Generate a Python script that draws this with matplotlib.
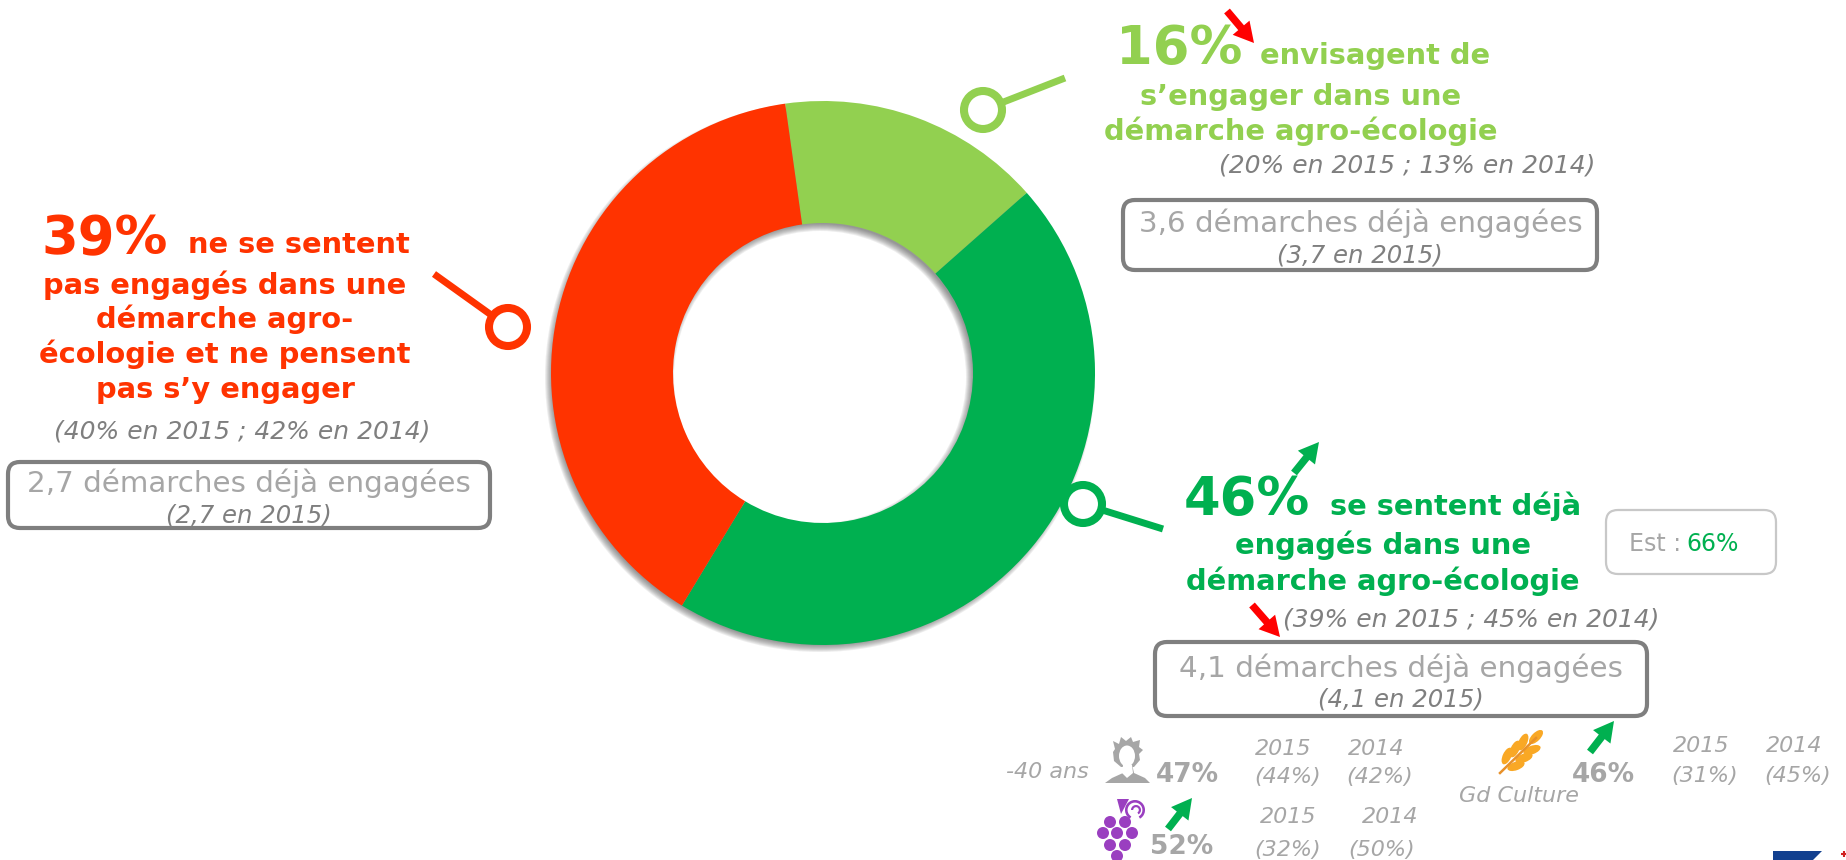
import matplotlib
matplotlib.use("Agg")
import matplotlib.pyplot as plt
from matplotlib.patches import Circle, Ellipse, FancyArrow, FancyBboxPatch, Polygon, Wedge

# shares read from the ring itself (labels say 46/16/39)
slices = [15.7, 45.2, 39.1]
slice_colors = ["#92D050", "#00B050", "#FF3300"]

red = "#FF3300"
green = "#00B050"
light = "#92D050"
grey = "#7F7F7F"
pale = "#A6A6A6"

W, H = 1846, 860
cx, cy, r = 823, 373, 272
hole = 150

big = 38
head = 20.8
note = 18
sub = 17.6
boxed = 21.2
small = 16

fig = plt.figure(figsize=(W / 100, H / 100), dpi=100)
plt.rcParams["font.family"] = ["DejaVu Sans"]

pad = 1.1
pie_ax = fig.add_axes([(cx - r * pad) / W, 1 - (cy + r * pad) / H, 2 * r * pad / W, 2 * r * pad / H], zorder=2)
pie_ax.pie(slices, colors=slice_colors, startangle=98, counterclock=False, radius=1,
           wedgeprops=dict(width=1 - hole / r, linewidth=0))
pie_ax.set_xlim(-pad, pad)
pie_ax.set_ylim(-pad, pad)
pie_ax.set_axis_off()
pie_ax.patch.set_alpha(0)

# layer under the ring, only for the soft shadow
back = fig.add_axes([0, 0, 1, 1], zorder=1)
back.set_xlim(0, W)
back.set_ylim(H, 0)
back.set_axis_off()
for k in range(8):
    outer = r + 3 - k
    inner = hole - 4 + k
    back.add_patch(Wedge((cx - 3, cy + 4), outer, 0, 360, width=outer - inner,
                         color="#404040", alpha=0.09, lw=0))

ax = fig.add_axes([0, 0, 1, 1], zorder=3)
ax.set_xlim(0, W)
ax.set_ylim(H, 0)
ax.set_axis_off()
ax.patch.set_alpha(0)


def txt(x, y, s, size, color, ha="center", bold=False, italic=False):
    ax.text(x, y, s, fontsize=size, color=color, ha=ha, va="baseline",
            fontweight="bold" if bold else "normal",
            fontstyle="italic" if italic else "normal")


def pin(x, y, x2, y2, color):
    ax.plot([x, x2], [y, y2], color=color, lw=5, solid_capstyle="butt", zorder=1)
    ax.add_patch(Circle((x, y), 19, fc="white", ec=color, lw=5.8, zorder=2))


def arrow(x, y, x2, y2, color):
    ax.add_patch(FancyArrow(x, y, x2 - x, y2 - y, width=7.5, head_width=22, head_length=20,
                            length_includes_head=True, color=color, lw=0))


def box(x0, y0, x1, y1, color=grey, lw=3, rad=12):
    ax.add_patch(FancyBboxPatch((x0, y0), x1 - x0, y1 - y0, boxstyle=f"round,pad=0,rounding_size={rad}",
                                fc="white", ec=color, lw=lw))


# left block
txt(41, 254, "39%", big, red, ha="left", bold=True)
txt(188, 253, "ne se sentent", head, red, ha="left", bold=True)
txt(225, 294, "pas engagés dans une", head, red, bold=True)
txt(225, 328, "démarche agro-", head, red, bold=True)
txt(225, 363, "écologie et ne pensent", head, red, bold=True)
txt(225, 398, "pas s’y engager", head, red, bold=True)
txt(242, 438, "(40% en 2015 ; 42% en 2014)", note, grey, italic=True)
box(8, 462, 490, 528)
txt(249, 492, "2,7 démarches déjà engagées", boxed, pale)
txt(249, 523, "(2,7 en 2015)", sub, grey, italic=True)
pin(508, 327, 434, 274, red)

# top right block
txt(1116, 64, "16%", big, light, ha="left", bold=True)
txt(1260, 64, "envisagent de", head, light, ha="left", bold=True)
txt(1301, 105, "s’engager dans une", head, light, bold=True)
txt(1301, 140, "démarche agro-écologie", head, light, bold=True)
txt(1407, 173, "(20% en 2015 ; 13% en 2014)", note, grey, italic=True)
box(1123, 200, 1597, 270)
txt(1361, 232, "3,6 démarches déjà engagées", boxed, pale)
txt(1360, 262, "(3,7 en 2015)", sub, grey, italic=True)
pin(983, 110, 1065, 78, light)
arrow(1227, 11, 1254, 43, "#FF0000")

# bottom right block
txt(1184, 515, "46%", big, green, ha="left", bold=True)
txt(1330, 515, "se sentent déjà", head, green, ha="left", bold=True)
txt(1383, 554, "engagés dans une", head, green, bold=True)
txt(1383, 590, "démarche agro-écologie", head, green, bold=True)
txt(1471, 627, "(39% en 2015 ; 45% en 2014)", note, grey, italic=True)
box(1155, 642, 1647, 716)
txt(1401, 677, "4,1 démarches déjà engagées", boxed, pale)
txt(1401, 707, "(4,1 en 2015)", sub, grey, italic=True)
pin(1083, 504, 1163, 529, green)
arrow(1294, 473, 1319, 442, green)
arrow(1252, 605, 1280, 637, "#FF0000")
arrow(1590, 752, 1614, 721, green)

box(1606, 510, 1776, 574, color="#C8C8C8", lw=1.6)
txt(1629, 551, "Est : ", 17, pale, ha="left")
txt(1686, 551, "66%", 17, green, ha="left")

# detail rows
txt(1006, 778, "-40 ans", small, pale, ha="left", italic=True)
txt(1156, 782, "47%", 19, pale, ha="left", bold=True)
txt(1283, 755, "2015", small, pale, italic=True)
txt(1376, 755, "2014", small, pale, italic=True)
txt(1288, 783, "(44%)", small, pale, italic=True)
txt(1380, 783, "(42%)", small, pale, italic=True)

txt(1519, 802, "Gd Culture", small, pale, italic=True)
txt(1572, 782, "46%", 19, pale, ha="left", bold=True)
txt(1701, 752, "2015", small, pale, italic=True)
txt(1794, 752, "2014", small, pale, italic=True)
txt(1705, 782, "(31%)", small, pale, italic=True)
txt(1798, 782, "(45%)", small, pale, italic=True)

txt(1150, 854, "52%", 19, pale, ha="left", bold=True)
txt(1288, 823, "2015", small, pale, italic=True)
txt(1390, 823, "2014", small, pale, italic=True)
txt(1288, 856, "(32%)", small, pale, italic=True)
txt(1382, 856, "(50%)", small, pale, italic=True)
arrow(1168, 829, 1192, 798, green)

# person icon
ax.add_patch(Polygon([(1105, 783), (1112, 778), (1123, 773), (1125, 764), (1132, 764), (1134, 773),
                      (1145, 778), (1150, 783)], color=pale, lw=0))
ax.add_patch(Polygon([(1114, 761), (1113, 752), (1115, 749), (1113, 741), (1119, 744), (1121, 737),
                      (1126, 741), (1131, 737), (1133, 742), (1140, 740), (1139, 747), (1143, 750),
                      (1139, 754), (1140, 760), (1134, 767), (1121, 767)], color=pale, lw=0))
ax.add_patch(Ellipse((1127, 756), 16, 21, color="white", lw=0))
ax.add_patch(Polygon([(1123, 765), (1132, 765), (1133, 773), (1127, 778), (1122, 773)], color="white", lw=0))

# grapes icon
purple = "#9A3FC0"
for gx, gy in [(1110, 822), (1125, 822), (1103, 833), (1117, 833), (1132, 833),
               (1110, 845), (1125, 845), (1117, 856)]:
    ax.add_patch(Circle((gx, gy), 6, color=purple, lw=0))
ax.add_patch(Polygon([(1117, 799), (1129, 799), (1121, 814)], color=purple, lw=0))
ax.add_patch(Wedge((1135, 810), 10, 120, 60, width=2.6, color=purple, lw=0))
ax.add_patch(Wedge((1136, 810), 5, 180, 60, width=2.2, color=purple, lw=0))

# wheat icon
wheat = "#F9A825"
ax.plot([1500, 1536], [773, 738], color="#E8912A", lw=1.8)
for wx, wy, ang in [(1507, 756, -65), (1515, 749, -65), (1523, 742, -65),
                    (1516, 766, -20), (1524, 758, -20), (1532, 750, -20),
                    (1536, 737, -45)]:
    ax.add_patch(Ellipse((wx, wy), 18, 8.5, angle=ang, color=wheat, lw=0))

# logo corner, cut by the slide edge
ax.add_patch(Polygon([(1773, 851), (1822, 851), (1813, 860), (1773, 860)], color="#12408F", lw=0))
ax.plot([1844], [854], marker="+", color="#D02020", ms=5, mew=1.5)

fig.savefig("out.png", dpi=100, facecolor="white")
